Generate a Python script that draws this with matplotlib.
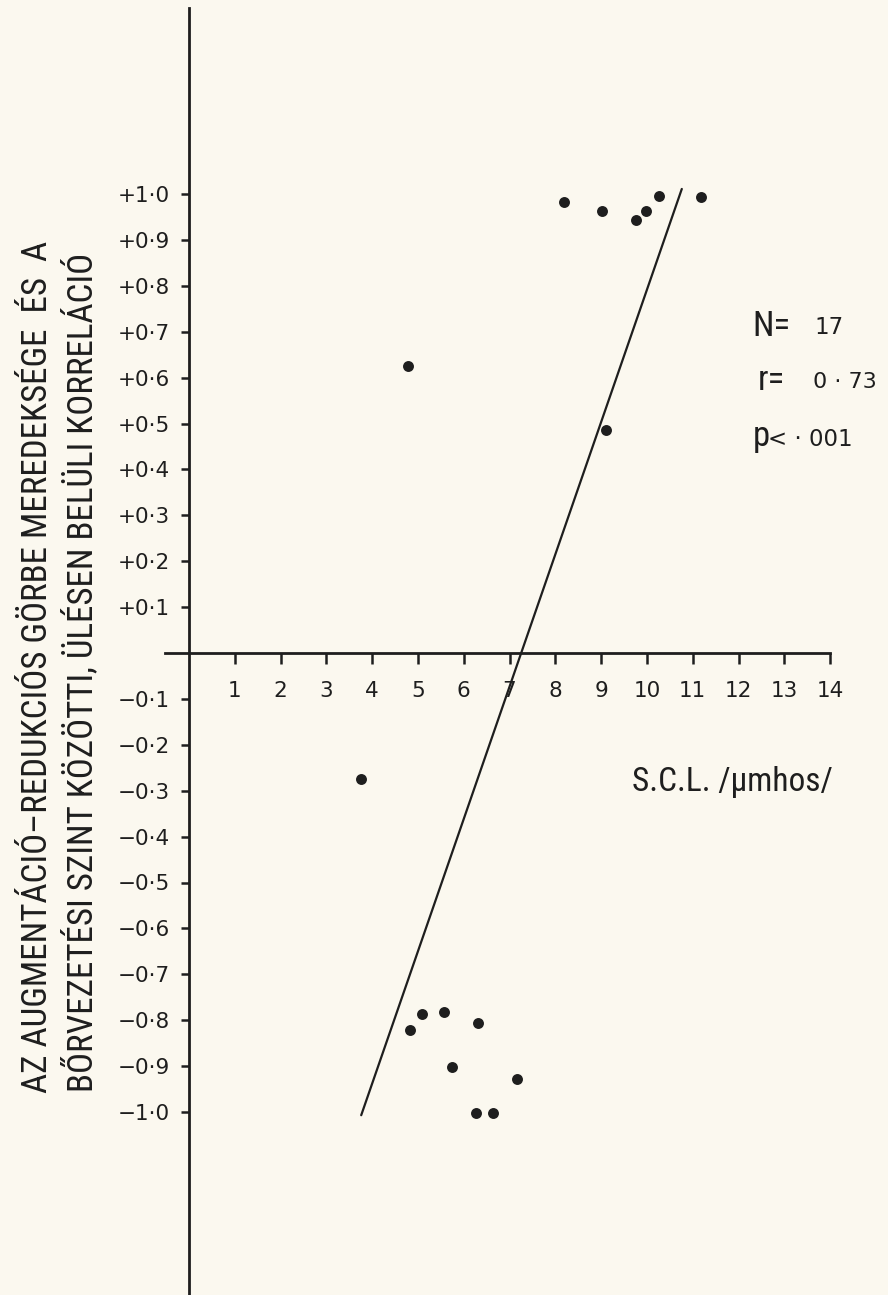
import matplotlib

matplotlib.use("Agg")

import matplotlib.pyplot as plt
from matplotlib import font_manager


# S.C.L. (umhos) vs within-session correlation
scl = [8.19, 9.02, 9.76, 9.98, 10.26, 11.18, 4.78, 9.10, 3.76,
       4.83, 5.09, 5.57, 6.31, 5.74, 7.16, 6.27, 6.64]
corr = [0.983, 0.963, 0.943, 0.963, 0.996, 0.993, 0.625, 0.486, -0.275,
        -0.821, -0.786, -0.782, -0.806, -0.902, -0.928, -1.002, -1.002]

fit_x = [3.76, 10.76]
fit_y = [-1.007, 1.011]

x_ticks = list(range(1, 15))
y_ticks = [1.0, 0.9, 0.8, 0.7, 0.6, 0.5, 0.4, 0.3, 0.2, 0.1,
           -0.1, -0.2, -0.3, -0.4, -0.5, -0.6, -0.7, -0.8, -0.9, -1.0]
y_tick_labels = ["+1·0", "+0·9", "+0·8", "+0·7", "+0·6", "+0·5", "+0·4",
                 "+0·3", "+0·2", "+0·1",
                 "−0·1", "−0·2", "−0·3", "−0·4", "−0·5", "−0·6", "−0·7",
                 "−0·8", "−0·9", "−1·0"]

ylabel_1 = "AZ AUGMENTÁCIÓ–REDUKCIÓS GÖRBE MEREDEKSÉGE  ÉS  A"
ylabel_2 = "BŐRVEZETÉSI SZINT KÖZÖTTI, ÜLÉSEN BELÜLI KORRELÁCIÓ"

BG = "#fbf8ef"
INK = "#1e1e1e"
PLAIN = ["DejaVu Sans"]


def pick_narrow():
    # first condensed face that is really installed
    for family, stretch in [("Liberation Sans Narrow", "normal"),
                            ("Roboto Condensed", "normal"),
                            ("Open Sans Condensed", "normal"),
                            ("DejaVu Sans", "condensed")]:
        try:
            path = font_manager.findfont(
                font_manager.FontProperties(family=family, stretch=stretch),
                fallback_to_default=False)
        except ValueError:
            continue
        if stretch == "normal" or "ondensed" in path:
            return {"family": family, "fontstretch": stretch}, True
    return {"family": "DejaVu Sans", "fontstretch": "normal"}, False


NARROW, HAVE_NARROW = pick_narrow()
SHRINK = 1.0 if HAVE_NARROW else 0.82

W, H = 888, 1295
X0_PX, X_UNIT = 189, 45.8      # x = 0 pixel, pixels per unit
Y0_PX, Y_UNIT = 653, 459.0     # y = 0 pixel, pixels per 1.0


def fx(px):
    return px / W


def fy(py):
    return 1 - py / H


fig = plt.figure(figsize=(W / 100, H / 100), dpi=100, facecolor=BG)
ax = fig.add_axes([0, 0, 1, 1])
ax.set_facecolor(BG)
ax.set_xlim(-X0_PX / X_UNIT, (W - X0_PX) / X_UNIT)
ax.set_ylim(-(H - Y0_PX) / Y_UNIT, Y0_PX / Y_UNIT)

for side in ["top", "right"]:
    ax.spines[side].set_visible(False)
ax.spines["left"].set_position(("data", 0))
ax.spines["bottom"].set_position(("data", 0))
ax.spines["left"].set_bounds(-(H - Y0_PX) / Y_UNIT, (Y0_PX - 8) / Y_UNIT)
ax.spines["bottom"].set_bounds((165 - X0_PX) / X_UNIT, 14)
for side in ["left", "bottom"]:
    ax.spines[side].set_linewidth(2.0)
    ax.spines[side].set_color(INK)

ax.set_xticks(x_ticks)
ax.set_xticklabels([str(t) for t in x_ticks], family=PLAIN, fontsize=15.5)
ax.set_yticks(y_ticks)
ax.set_yticklabels(y_tick_labels, family=PLAIN, fontsize=15.5)
ax.tick_params(axis="x", direction="out", length=8, width=1.8, pad=12, colors=INK)
ax.tick_params(axis="y", direction="out", length=6, width=1.8, pad=8, colors=INK)

ax.plot(fit_x, fit_y, color=INK, linewidth=1.6, solid_capstyle="round")
ax.scatter(scl, corr, s=62, color=INK, zorder=3, linewidths=0)

fig.text(fx(38), fy(667), ylabel_1, rotation=90, ha="center", va="center",
         fontsize=25.2 * SHRINK, color=INK, **NARROW)
fig.text(fx(81), fy(672), ylabel_2, rotation=90, ha="center", va="center",
         fontsize=25.2 * SHRINK, color=INK, **NARROW)

fig.text(fx(752), fy(326), "N=", ha="left", va="center",
         fontsize=25 * SHRINK, color=INK, **NARROW)
fig.text(fx(814), fy(328), "17", ha="left", va="center",
         family=PLAIN, fontsize=16.5, color=INK)
fig.text(fx(758), fy(381), "r=", ha="left", va="center",
         fontsize=25 * SHRINK, color=INK, **NARROW)
fig.text(fx(813), fy(382), "0 · 73", ha="left", va="center",
         family=PLAIN, fontsize=16, color=INK)
fig.text(fx(753), fy(436), "p", ha="left", va="center",
         fontsize=25 * SHRINK, color=INK, **NARROW)
fig.text(fx(768), fy(439), "< · 001", ha="left", va="center",
         family=PLAIN, fontsize=16.5, color=INK)

fig.text(fx(632), fy(782), "S.C.L. /μmhos/", ha="left", va="center",
         fontsize=24 * SHRINK, color=INK, **NARROW)

fig.savefig("out.png", dpi=100, facecolor=BG)
plt.close(fig)
